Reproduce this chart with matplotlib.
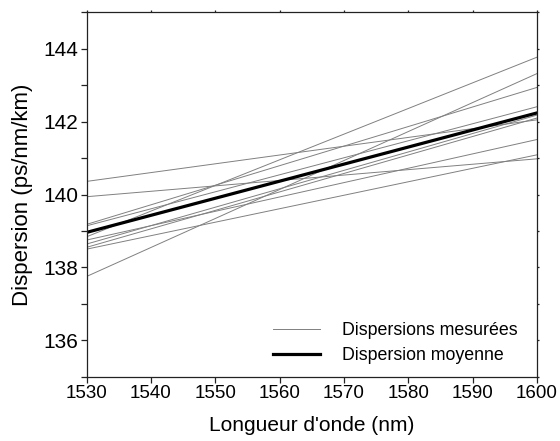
import matplotlib
matplotlib.use("Agg")
import matplotlib.pyplot as plt
from matplotlib.ticker import MultipleLocator

plt.rcParams['font.family'] = ['Liberation Sans', 'DejaVu Sans']

wavelengths = [1530, 1600]
measured_start = [140.36, 139.94, 139.18, 139.14, 138.84, 138.75, 138.64, 138.55, 138.50, 137.75]
measured_end = [142.05, 140.98, 142.94, 142.41, 143.77, 141.51, 142.18, 142.10, 141.09, 143.32]
mean_line = [138.96, 142.24]

fig = plt.figure(figsize=(5.6, 4.41), dpi=100)
ax = fig.add_axes([0.1545, 0.1458, 0.959 - 0.1545, 0.972 - 0.1458])

for i, (s, e) in enumerate(zip(measured_start, measured_end)):
    ax.plot(wavelengths, [s, e], color='#808080', lw=0.7,
            label='Dispersions mesurées' if i == 0 else None)
ax.plot(wavelengths, mean_line, color='black', lw=2.3, label='Dispersion moyenne')

ax.set_xlim(1530, 1600)
ax.set_ylim(135, 145)
ax.xaxis.set_major_locator(MultipleLocator(10))
ax.yaxis.set_major_locator(MultipleLocator(2))
ax.yaxis.set_minor_locator(MultipleLocator(1))

for sp in ax.spines.values():
    sp.set_linewidth(0.9)
    sp.set_color('#222222')

ax.tick_params(axis='both', which='both', direction='out', length=4, width=0.9,
               color='#222222', pad=2)
ax.tick_params(axis='x', labelsize=13.5)
ax.tick_params(axis='y', labelsize=15)
ax.tick_params(axis='y', which='both', right=True)
ax.tick_params(axis='x', which='major', top=True)
ax.tick_params(axis='both', which='both', labelright=False, labeltop=False)
for t in ax.yaxis.get_major_ticks() + ax.yaxis.get_minor_ticks():
    t.tick2line.set_markersize(1.5)
for t in ax.xaxis.get_major_ticks():
    t.tick2line.set_markersize(1.5)

ax.set_xlabel("Longueur d'onde (nm)", fontsize=15, labelpad=10)
ax.set_ylabel("Dispersion (ps/nm/km)", fontsize=16, labelpad=7)

leg = ax.legend(loc='lower right', bbox_to_anchor=(0.984, 0.0), frameon=False,
                fontsize=12.8, handlelength=2.6, handletextpad=1.25,
                borderaxespad=0.3, labelspacing=0.45)

fig.savefig('out.png', dpi=100)
